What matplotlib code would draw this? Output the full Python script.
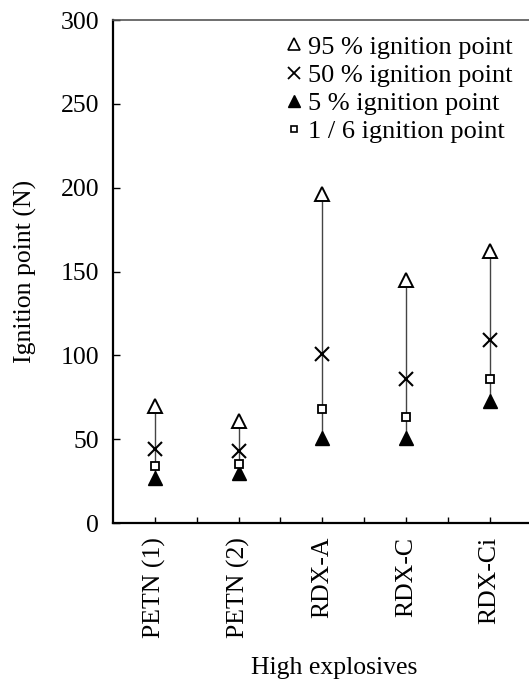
import matplotlib
matplotlib.use('Agg')
import matplotlib.pyplot as plt
from matplotlib.lines import Line2D

plt.rcParams['font.family'] = ['Liberation Serif', 'DejaVu Serif']

# data
explosives = ['PETN (1)', 'PETN (2)', 'RDX-A', 'RDX-C', 'RDX-Ci']
p95 = [70, 61, 196, 145, 162]
p50 = [44, 43, 101, 86, 109]
p5 = [27, 30, 51, 51, 73]
p16 = [34, 35, 68, 63, 86]

x = list(range(1, len(explosives) + 1))

fig = plt.figure(figsize=(5.29, 6.81), dpi=100)
ax = fig.add_axes([0.2136, 0.232, 0.7864, 0.7386])

# vertical range lines
ax.vlines(x, p5, p95, colors='#444444', linewidth=1, zorder=1)

ax.plot(x, p95, linestyle='none', marker='^', markersize=10, markerfacecolor='white',
        markeredgecolor='black', markeredgewidth=1.4, zorder=3)
ax.plot(x, p50, linestyle='none', marker='x', markersize=10, color='black',
        markeredgewidth=1.5, zorder=3)
ax.plot(x, p5, linestyle='none', marker='^', markersize=10, color='black', zorder=3)
ax.plot(x, p16, linestyle='none', marker='s', markersize=5.5, markerfacecolor='white',
        markeredgecolor='black', markeredgewidth=1.3, zorder=3)

ax.set_xlim(0.5, 5.47)
ax.set_ylim(0, 300)
ax.set_yticks(range(0, 301, 50))
ax.set_xticks(x)
ax.set_xticklabels(explosives, rotation=90)
ax.set_xticks([1.5, 2.5, 3.5, 4.5], minor=True)

ax.tick_params(axis='both', which='both', direction='in', labelsize=18.5, width=1, pad=10)
ax.tick_params(axis='y', length=5)
ax.tick_params(axis='x', which='both', length=4)

ax.spines['right'].set_visible(False)
for s in ['left', 'bottom']:
    ax.spines[s].set_linewidth(1.6)
ax.spines['top'].set_linewidth(1.2)
ax.spines['top'].set_color('#555555')

ax.set_ylabel('Ignition point (N)', fontsize=18.5, labelpad=17)
ax.set_xlabel('High explosives', fontsize=18.5, labelpad=14)
ax.xaxis.set_label_coords(0.531, -0.266)

handles = [
    Line2D([], [], linestyle='none', marker='^', markersize=8, markerfacecolor='white',
           markeredgecolor='black', markeredgewidth=1.2),
    Line2D([], [], linestyle='none', marker='x', markersize=8.5, color='black', markeredgewidth=1.3),
    Line2D([], [], linestyle='none', marker='^', markersize=8, color='black'),
    Line2D([], [], linestyle='none', marker='s', markersize=5, markerfacecolor='white',
           markeredgecolor='black', markeredgewidth=1.2),
]
labels = ['95 % ignition point', '50 % ignition point', '5 % ignition point',
          '1 / 6 ignition point']
ax.legend(handles, labels, loc='upper left', bbox_to_anchor=(0.415, 0.97), frameon=False,
          fontsize=19, handlelength=0.6, handletextpad=0.25, labelspacing=0.18,
          borderpad=0, borderaxespad=0)

fig.savefig('out.png', dpi=100)
